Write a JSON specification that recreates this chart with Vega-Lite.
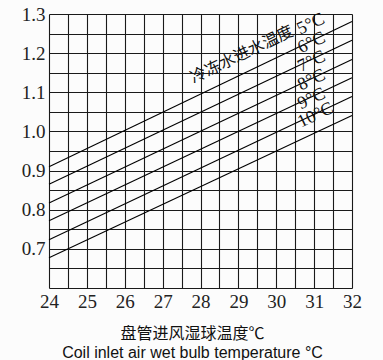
{
  "$schema": "https://vega.github.io/schema/vega-lite/v6.json",
  "autosize": "none",
  "width": 303,
  "height": 274,
  "padding": {"left": 49, "top": 14, "right": 31, "bottom": 72},
  "background": "#fcfcfc",
  "config": {"view": {"stroke": null}},
  "datasets": {
    "lines": [
      {"t": "5", "x": 24, "y": 0.91},
      {"t": "5", "x": 32, "y": 1.281},
      {"t": "6", "x": 24, "y": 0.865},
      {"t": "6", "x": 32, "y": 1.233},
      {"t": "7", "x": 24, "y": 0.817},
      {"t": "7", "x": 32, "y": 1.184},
      {"t": "8", "x": 24, "y": 0.772},
      {"t": "8", "x": 32, "y": 1.137},
      {"t": "9", "x": 24, "y": 0.723},
      {"t": "9", "x": 32, "y": 1.089},
      {"t": "10", "x": 24, "y": 0.677},
      {"t": "10", "x": 32, "y": 1.041}
    ],
    "labels": [
      {"kind": "name", "label": "冷冻水进水温度", "x": 27.85, "y": 1.116},
      {"kind": "temp", "label": "5°C", "x": 30.68, "y": 1.238},
      {"kind": "temp", "label": "6°C", "x": 30.7, "y": 1.19},
      {"kind": "temp", "label": "7°C", "x": 30.7, "y": 1.142},
      {"kind": "temp", "label": "8°C", "x": 30.7, "y": 1.095},
      {"kind": "temp", "label": "9°C", "x": 30.7, "y": 1.047},
      {"kind": "temp", "label": "10°C", "x": 30.7, "y": 1.0}
    ]
  },
  "encoding": {
    "x": {
      "field": "x", "type": "quantitative",
      "scale": {"domain": [24, 32], "nice": false, "zero": false},
      "axis": {
        "values": [24, 24.5, 25, 25.5, 26, 26.5, 27, 27.5, 28, 28.5, 29, 29.5, 30, 30.5, 31, 31.5, 32],
        "labelExpr": "datum.value % 1 == 0 ? datum.value : ''",
        "labelOverlap": false,
        "grid": true, "gridColor": "#1a1a1a", "gridOpacity": 1, "gridWidth": 1.1,
        "domain": false, "ticks": false,
        "labelFont": "Liberation Serif", "labelFontSize": 19, "labelColor": "#222",
        "labelPadding": 4, "labelFlush": false,
        "title": ["盘管进风湿球温度℃", "Coil inlet air wet bulb temperature °C"],
        "titleFont": "Liberation Sans, Noto Sans CJK SC", "titleFontSize": 16,
        "titleFontWeight": "normal", "titleColor": "#111", "titleLineHeight": 19,
        "titleX": 143, "titleY": 37, "titleAlign": "center", "titleBaseline": "top"
      }
    },
    "y": {
      "field": "y", "type": "quantitative",
      "scale": {"domain": [0.6, 1.3], "nice": false, "zero": false},
      "axis": {
        "values": [0.6, 0.65, 0.7, 0.75, 0.8, 0.85, 0.9, 0.95, 1.0, 1.05, 1.1, 1.15, 1.2, 1.25, 1.3],
        "labelExpr": "(round(datum.value*100) % 10 == 0 && datum.value > 0.65) ? format(datum.value, '.1f') : ''",
        "labelOverlap": false,
        "grid": true, "gridColor": "#1a1a1a", "gridOpacity": 1, "gridWidth": 1.1,
        "domain": false, "ticks": false,
        "labelFont": "Liberation Serif", "labelFontSize": 19, "labelColor": "#222",
        "labelPadding": 4, "labelFlush": false,
        "title": null
      }
    }
  },
  "layer": [
    {
      "data": {"name": "lines"},
      "mark": {"type": "line", "color": "#000", "strokeWidth": 1.1},
      "encoding": {
        "detail": {"field": "t"}
      }
    },
    {
      "data": {"name": "labels"},
      "transform": [{"filter": "datum.kind == 'name'"}],
      "mark": {
        "type": "text", "angle": 334.4, "align": "left", "baseline": "bottom",
        "font": "Noto Sans CJK SC", "fontSize": 16, "color": "#111"
      },
      "encoding": {
        "text": {"field": "label"}
      }
    },
    {
      "data": {"name": "labels"},
      "transform": [{"filter": "datum.kind == 'temp'"}],
      "mark": {
        "type": "text", "angle": 334.4, "align": "left", "baseline": "bottom",
        "font": "Liberation Serif", "fontSize": 18, "color": "#111"
      },
      "encoding": {
        "text": {"field": "label"}
      }
    }
  ]
}
